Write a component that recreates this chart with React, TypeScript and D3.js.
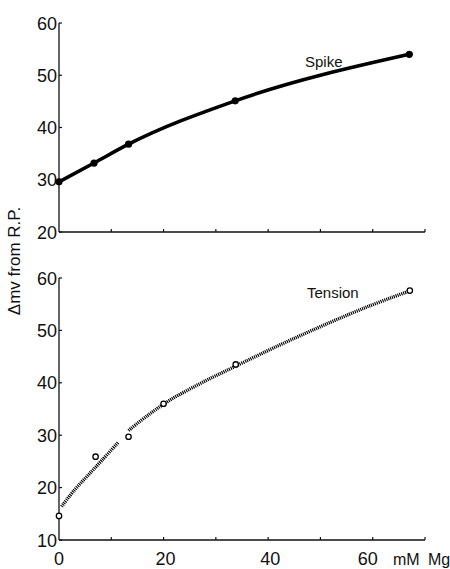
import React from "react";
import * as d3 from "d3";

const spikeX = [0, 6.7, 13.3, 33.7, 67];
const spikeY = [29.6, 33.2, 36.8, 45.1, 54];

const tensionX = [0, 7, 13.3, 20, 33.8, 67.1];
const tensionY = [14.6, 25.9, 29.7, 36, 43.5, 57.6];

// hand-drawn tension curve (two pieces, with a gap near 12 mM)
const tensionCurveAX = [0.5, 3, 5.6, 8.2, 11.3];
const tensionCurveAY = [16.4, 19.6, 22.4, 25.2, 28.6];
const tensionCurveBX = [13.3, 17, 20.9, 26.9, 33, 44.8, 58.7, 67];
const tensionCurveBY = [30.9, 33.8, 36.5, 39.8, 42.8, 48.4, 54.4, 57.5];

const xTicks = [0, 10, 20, 30, 40, 50, 60, 70];
const xTickLabels = [0, 20, 40, 60];
const topYTicks = [20, 30, 40, 50, 60];
const botYTicks = [10, 20, 30, 40, 50, 60];

const W = 450;
const H = 569;
const FONT = "'Liberation Sans Narrow', 'Liberation Sans', Arial, sans-serif";

export default function App() {
  const x = d3.scaleLinear().domain([0, 70]).range([59, 425]);
  const yTop = d3.scaleLinear().domain([20, 60]).range([232, 23]);
  const yBot = d3.scaleLinear().domain([10, 60]).range([540, 278]);

  const spikeLine = d3
    .line<number>()
    .x((_, i) => x(spikeX[i]))
    .y((d) => yTop(d))
    .curve(d3.curveMonotoneX)(spikeY) as string;

  const makeTension = (xs: number[], ys: number[]) =>
    d3
      .line<number>()
      .x((_, i) => x(xs[i]))
      .y((d) => yBot(d))
      .curve(d3.curveCatmullRom.alpha(0.5))(ys) as string;

  const tensionA = makeTension(tensionCurveAX, tensionCurveAY);
  const tensionB = makeTension(tensionCurveBX, tensionCurveBY);

  const x0 = x(0);
  const xEnd = x(70);

  return (
    <svg
      width={W}
      height={H}
      style={{ position: "absolute", left: 0, top: 0, background: "#fff" }}
      fontFamily={FONT}
    >
      <rect width={W} height={H} fill="#fff" />
      {/* Top panel axes */}
      <line x1={x0} x2={x0} y1={yTop(60)} y2={yTop(20)} stroke="#111" strokeWidth={1.3} />
      <line x1={x0} x2={xEnd} y1={yTop(20)} y2={yTop(20)} stroke="#111" strokeWidth={1.3} />
      {topYTicks.map((t) => (
        <g key={"ty" + t}>
          <line x1={x0} x2={x0 + 3} y1={yTop(t)} y2={yTop(t)} stroke="#111" strokeWidth={1.2} />
          <text x={x0 - 2} y={yTop(t) + 6.5} textAnchor="end" fontSize={18} fill="#111">
            {t}
          </text>
        </g>
      ))}
      {xTicks.slice(1).map((t) => (
        <line key={"tx" + t} x1={x(t)} x2={x(t)} y1={yTop(20)} y2={yTop(20) - 3} stroke="#111" strokeWidth={1.2} />
      ))}
      <path d={spikeLine} fill="none" stroke="#000" strokeWidth={3.6} strokeLinecap="round" />
      {spikeX.map((v, i) => (
        <circle key={"sp" + i} cx={x(v)} cy={yTop(spikeY[i])} r={3.6} fill="#000" />
      ))}
      <text x={305} y={67} fontSize={15} fill="#111">
        Spike
      </text>

      {/* Bottom panel axes */}
      <line x1={x0} x2={x0} y1={yBot(60)} y2={yBot(10)} stroke="#111" strokeWidth={1.3} />
      <line x1={x0} x2={xEnd} y1={yBot(10)} y2={yBot(10)} stroke="#111" strokeWidth={1.3} />
      {botYTicks.map((t) => (
        <g key={"by" + t}>
          <line x1={x0} x2={x0 + 3} y1={yBot(t)} y2={yBot(t)} stroke="#111" strokeWidth={1.2} />
          <text x={x0 - 2} y={yBot(t) + 6.5} textAnchor="end" fontSize={18} fill="#111">
            {t}
          </text>
        </g>
      ))}
      {xTicks.slice(1).map((t) => (
        <line key={"bx" + t} x1={x(t)} x2={x(t)} y1={yBot(10)} y2={yBot(10) - 3} stroke="#111" strokeWidth={1.2} />
      ))}
      {xTickLabels.map((t) => (
        <text key={"bl" + t} x={x(t) + (t === 60 ? -5 : t === 0 ? 0 : 2)} y={565} textAnchor="middle" fontSize={18} fill="#111">
          {t}
        </text>
      ))}
      <text x={393} y={565} fontSize={16} fill="#111">
        mM
      </text>
      <text x={428} y={565} fontSize={16} fill="#111">
        Mg
      </text>
      <path d={tensionA} fill="none" stroke="#000" strokeWidth={3.4} strokeDasharray="1.1 0.9" />
      <path d={tensionB} fill="none" stroke="#000" strokeWidth={3.4} strokeDasharray="1.1 0.9" />
      {tensionX.map((v, i) => (
        <circle key={"tn" + i} cx={x(v)} cy={yBot(tensionY[i])} r={2.7} fill="#fff" stroke="#000" strokeWidth={1.3} />
      ))}
      <text x={307} y={298} fontSize={15} fill="#111">
        Tension
      </text>

      {/* Y axis label */}
      <text
        transform="translate(20,261) rotate(-90)"
        textAnchor="middle"
        fontSize={17}
        fill="#111"
      >
        Δmv  from R.P.
      </text>
    </svg>
  );
}
